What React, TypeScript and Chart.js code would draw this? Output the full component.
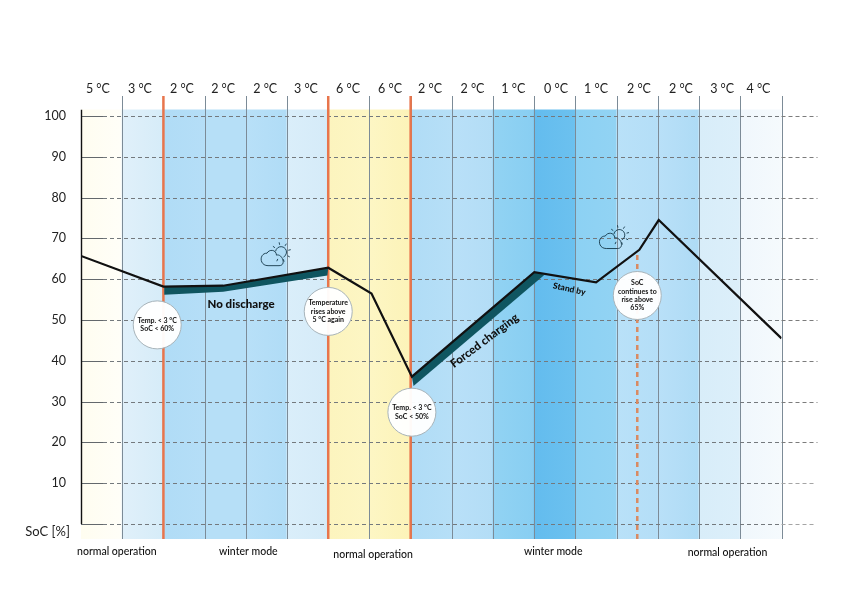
import React, { useEffect, useRef } from "react";
import { Chart, registerables } from "chart.js";

Chart.register(...registerables);

const FONT = "Lato, 'Noto Sans', sans-serif";

const tempLabels = ["5 °C", "3 °C", "2 °C", "2 °C", "2 °C", "3 °C", "6 °C", "6 °C", "2 °C", "2 °C", "1 °C", "0 °C", "1 °C", "2 °C", "2 °C", "3 °C", "4 °C"];
const tempLabelPositions = [0.41, 1.43, 2.45, 3.45, 4.47, 5.46, 6.48, 7.5, 8.47, 9.5, 10.49, 11.53, 12.5, 13.54, 14.56, 15.56, 16.44];
const bandStart = ["#FFFDF0", "#E0F0FA", "#B0DCF6", "#B6DFF7", "#B8E0F8", "#DAEEFA", "#FCF4BE", "#FDF6C4", "#B0DCF6", "#B9E0F8", "#92D3F3", "#63BCEE", "#8CD1F3", "#B9E1F8", "#B9E0F8", "#D8EDF9", "#F0F7FC"];
const bandEnd = ["#FFFEF8", "#D6ECF8", "#B5DEF7", "#B6DFF7", "#B0DCF6", "#D5EBF8", "#FDF6C4", "#FCF3B8", "#B6DFF7", "#B3DDF6", "#88CEF2", "#6CC1EF", "#92D3F3", "#B4DEF7", "#AEDBF5", "#DCEFFA", "#F5FAFD"];
const yTicks = [0, 10, 20, 30, 40, 50, 60, 70, 80, 90, 100];
const socX = [0, 2, 3.45, 6, 7.05, 8.03, 11, 12.5, 13.55, 14.02, 17];
const socY = [65.7, 58.2, 58.4, 62.8, 56.5, 36.1, 61.7, 59.2, 67.2, 74.5, 45.5];
const dischargeX = [2.02, 3.45, 6, 5.98, 3.45, 2.02];
const dischargeY = [58.2, 58.4, 62.8, 60.9, 56.9, 56.2];
const chargingX = [8.03, 11, 11.25, 8.07];
const chargingY = [36.1, 61.7, 61.1, 33.8];
const thresholdX = [2, 6, 8];
const continuedX = 13.5;
const continuedTop = 66;
const bubbleX = [1.85, 6, 8.03, 13.5];
const bubbleY = [48.8, 52.1, 27.4, 56];
const bubbleText = [
  ["Temp. < 3 °C", "SoC < 60%"],
  ["Temperature", "rises above", "5 °C again"],
  ["Temp. < 3 °C", "SoC < 50%"],
  ["SoC", "continues to", "rise above", "65%"],
];
const zoneText = ["normal operation", "winter mode", "normal operation", "winter mode", "normal operation"];
const zoneX = [0.87, 4.06, 7.09, 11.46, 15.69];
const zoneY = [-6.8, -6.8, -7.4, -6.8, -7.0];
const notes = [
  { text: "No discharge", x: 3.885, y: 53.9, rot: 0, size: 11.5 },
  { text: "Forced charging", x: 9.79, y: 44.9, rot: -37, size: 11.5 },
  { text: "Stand by", x: 11.85, y: 57.6, rot: 12, size: 8.5 },
];
const iconX = [4.66, 12.87];
const iconY = [65.4, 69.6];

const Y_MIN = -3.68;
const Y_MAX = 104.9;
const BAND_TOP = 101.5;

function drawWeather(ctx: CanvasRenderingContext2D, x: number, y: number) {
  ctx.save();
  ctx.translate(x, y);
  ctx.strokeStyle = "#14384a";
  ctx.lineWidth = 0.9;
  ctx.beginPath();
  ctx.moveTo(-5, 8.5);
  ctx.bezierCurveTo(-14, 8.5, -14, -4, -6, -4);
  ctx.bezierCurveTo(-4, -8, 3, -8, 3.5, -2);
  ctx.bezierCurveTo(9, -4, 14, 8.5, 6, 8.5);
  ctx.closePath();
  ctx.stroke();
  ctx.beginPath();
  ctx.arc(8, -5, 5.5, Math.PI * 1.05, Math.PI * 2.35);
  ctx.stroke();
  for (let i = 0; i < 7; i++) {
    const a = Math.PI * (1.2 + i * 0.24);
    ctx.beginPath();
    ctx.moveTo(8 + Math.cos(a) * 7.5, -5 + Math.sin(a) * 7.5);
    ctx.lineTo(8 + Math.cos(a) * 10, -5 + Math.sin(a) * 10);
    ctx.stroke();
  }
  ctx.restore();
}

const gridPlugin = {
  id: "bandGrid",
  afterDatasetDraw(chart: any, args: any) {
    if (args.index !== 0) return;
    const { ctx, chartArea, scales } = chart;
    const xs = scales.x;
    const ys = scales.y;
    ctx.save();
    ctx.lineWidth = 1;
    ctx.strokeStyle = "#7c8b97";
    for (let i = 1; i <= 17; i++) {
      const px = Math.round(xs.getPixelForValue(i)) + 0.5;
      ctx.beginPath();
      ctx.moveTo(px, chartArea.top);
      ctx.lineTo(px, chartArea.bottom);
      ctx.stroke();
    }
    yTicks.forEach((t) => {
      const py = Math.round(ys.getPixelForValue(t)) + 0.5;
      const heavy = t <= 10;
      ctx.strokeStyle = "#63686c";
      ctx.lineWidth = 1;
      ctx.setLineDash([]);
      ctx.beginPath();
      ctx.moveTo(chartArea.left, py);
      ctx.lineTo(chartArea.left + 22, py);
      ctx.stroke();
      ctx.strokeStyle = "#74797d";
      ctx.setLineDash([4, 3]);
      ctx.beginPath();
      ctx.moveTo(chartArea.left + 22, py);
      ctx.lineTo(chartArea.right, py);
      ctx.stroke();
      ctx.strokeStyle = heavy ? "#a5a5a5" : "#7c7c7c";
      ctx.beginPath();
      ctx.moveTo(chartArea.right, py);
      ctx.lineTo(chartArea.right + (heavy ? 32 : 36), py);
      ctx.stroke();
    });
    ctx.setLineDash([]);
    ctx.strokeStyle = "#111";
    ctx.lineWidth = 1.4;
    ctx.beginPath();
    ctx.moveTo(chartArea.left + 0.5, ys.getPixelForValue(BAND_TOP));
    ctx.lineTo(chartArea.left + 0.5, ys.getPixelForValue(0));
    ctx.stroke();
    ctx.restore();
  },
};

const textPlugin = {
  id: "textNotes",
  afterDatasetsDraw(chart: any) {
    const { ctx, scales } = chart;
    const xs = scales.x;
    const ys = scales.y;
    ctx.save();
    ctx.fillStyle = "#111";
    ctx.textAlign = "center";
    ctx.textBaseline = "middle";
    bubbleText.forEach((lines, i) => {
      const cx = xs.getPixelForValue(bubbleX[i]);
      const cy = ys.getPixelForValue(bubbleY[i]);
      ctx.font = `700 7px ${FONT}`;
      lines.forEach((l, j) => ctx.fillText(l, cx, cy + (j - (lines.length - 1) / 2) * 8.3));
    });
    zoneText.forEach((t, i) => {
      ctx.font = `500 10.5px ${FONT}`;
      ctx.fillText(t, xs.getPixelForValue(zoneX[i]), ys.getPixelForValue(zoneY[i]));
    });
    notes.forEach((n) => {
      ctx.save();
      ctx.translate(xs.getPixelForValue(n.x), ys.getPixelForValue(n.y));
      ctx.rotate((n.rot * Math.PI) / 180);
      ctx.font = `900 ${n.size}px ${FONT}`;
      ctx.fillText(n.text, 0, 0);
      ctx.restore();
    });
    ctx.font = `400 13px ${FONT}`;
    ctx.fillStyle = "#222";
    ctx.textAlign = "right";
    ctx.fillText("SoC [%]", xs.getPixelForValue(0) - 11, ys.getPixelForValue(-1.8));
    iconX.forEach((x, i) => drawWeather(ctx, xs.getPixelForValue(x), ys.getPixelForValue(iconY[i])));
    ctx.restore();
  },
};

export default function App() {
  const ref = useRef<HTMLCanvasElement>(null);
  useEffect(() => {
    const canvas = ref.current!;
    const chart = new Chart(canvas, {
      type: "bar",
      plugins: [gridPlugin, textPlugin],
      data: {
        datasets: [
          {
            type: "bar",
            order: 10,
            data: bandStart.map((_, i) => ({ x: i + 0.5, y: [Y_MIN, BAND_TOP] })),
            barThickness: 41.6,
            borderWidth: 0,
            backgroundColor: (c: any) => {
              const i = c.dataIndex;
              const area = c.chart.chartArea;
              if (!area || i === undefined) return bandStart[0];
              const s = c.chart.scales.x;
              const g = c.chart.ctx.createLinearGradient(s.getPixelForValue(i), 0, s.getPixelForValue(i + 1), 0);
              g.addColorStop(0, bandStart[i]);
              g.addColorStop(1, bandEnd[i]);
              return g;
            },
          },
          ...thresholdX.map((x) => ({
            type: "line",
            order: 5,
            data: [{ x, y: Y_MIN }, { x, y: Y_MAX }],
            borderColor: "#E8754C",
            borderWidth: 2.5,
            pointRadius: 0,
          })),
          {
            type: "line",
            order: 5,
            data: [{ x: continuedX, y: Y_MIN }, { x: continuedX, y: continuedTop }],
            borderColor: "#D98A62",
            borderWidth: 2.5,
            borderDash: [5, 4],
            pointRadius: 0,
          },
          {
            type: "line",
            order: 3,
            data: dischargeX.map((x, i) => ({ x, y: dischargeY[i] })),
            borderWidth: 0,
            backgroundColor: "#0F5560",
            fill: "shape",
            pointRadius: 0,
          },
          {
            type: "line",
            order: 3,
            data: chargingX.map((x, i) => ({ x, y: chargingY[i] })),
            borderWidth: 0,
            backgroundColor: "#0F5560",
            fill: "shape",
            pointRadius: 0,
          },
          {
            type: "line",
            order: 2,
            data: socX.map((x, i) => ({ x, y: socY[i] })),
            borderColor: "#111",
            borderWidth: 2.2,
            borderJoinStyle: "miter",
            pointRadius: 0,
            tension: 0,
          },
          {
            type: "line",
            order: 1,
            data: bubbleX.map((x, i) => ({ x, y: bubbleY[i] })),
            showLine: false,
            pointRadius: 24,
            pointBackgroundColor: "rgba(255,255,255,0.96)",
            pointBorderColor: "#a8b4ba",
            pointBorderWidth: 1,
            clip: false,
          },
        ],
      } as any,
      options: {
        animation: false,
        responsive: false,
        layout: { padding: { top: 0, left: 0, right: 60.5, bottom: 56 } },
        plugins: { legend: { display: false }, tooltip: { enabled: false } },
        scales: {
          x: {
            type: "linear",
            position: "top",
            offset: false,
            min: 0,
            max: 17,
            grid: { display: false, drawTicks: false },
            border: { display: false },
            afterBuildTicks: (s: any) => {
              s.ticks = tempLabelPositions.map((value) => ({ value }));
            },
            afterFit: (s: any) => {
              s.height = 96;
            },
            ticks: {
              autoSkip: false,
              maxRotation: 0,
              padding: 0,
              color: "#222",
              font: { family: FONT, size: 12.5 },
              callback: (_: any, i: number) => tempLabels[i],
            },
          },
          y: {
            type: "linear",
            min: Y_MIN,
            max: Y_MAX,
            grid: { display: false, drawTicks: false },
            border: { display: false },
            afterBuildTicks: (s: any) => {
              s.ticks = yTicks.map((value) => ({ value }));
            },
            afterFit: (s: any) => {
              s.width = 81;
            },
            ticks: {
              autoSkip: false,
              padding: 15,
              color: "#222",
              font: { family: FONT, size: 12.5 },
              callback: (v: any) => (v === 0 ? "" : String(v)),
            },
          },
        },
      } as any,
    });
    return () => chart.destroy();
  }, []);
  return (
    <div style={{ position: "absolute", left: 0, top: 0, width: 842, height: 595, background: "#fff" }}>
      <canvas ref={ref} width={842} height={595} style={{ display: "block" }} />
    </div>
  );
}
